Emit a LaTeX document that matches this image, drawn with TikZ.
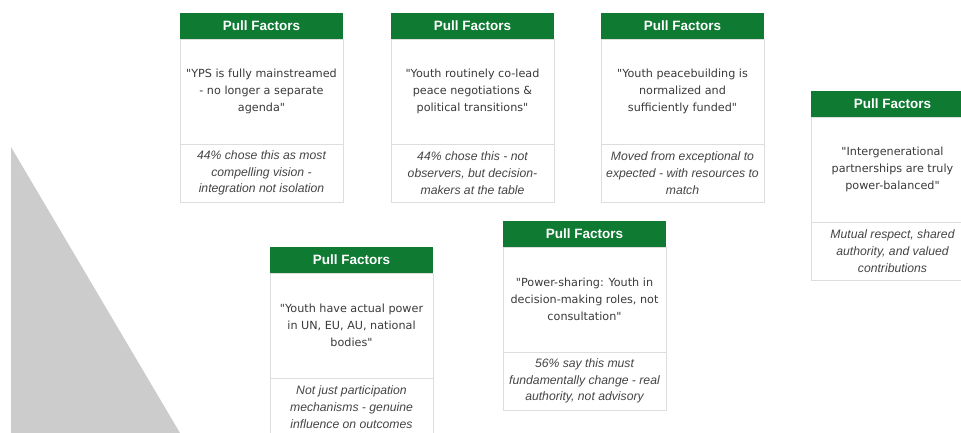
\documentclass[tikz,border=0pt]{standalone}
\usepackage{fontspec}
\setmainfont{Liberation Sans}
\newfontfamily\quotefont{DejaVu Sans}

\definecolor{pullgreen}{HTML}{0E7A32}
\definecolor{cardline}{HTML}{DDDDDD}
\definecolor{quotegray}{HTML}{3A3A3A}
\definecolor{notegray}{HTML}{454545}
\definecolor{wedgegray}{HTML}{CCCCCC}

\tikzset{
  cardhead/.style={fill=pullgreen, text=white, anchor=north west,
    minimum width=163, minimum height=26, inner sep=0, outer sep=0,
    font=\bfseries\fontsize{13.5}{15}\selectfont},
  cardbody/.style={draw=cardline, line width=0.7, fill=white, anchor=north,
    minimum width=163, minimum height=105, inner sep=0, outer sep=0,
    align=center, text=quotegray,
    font=\quotefont\fontsize{11.2}{16.7}\selectfont},
  cardnote/.style={draw=cardline, line width=0.7, fill=white, anchor=north,
    minimum width=163, minimum height=58, inner sep=0, outer sep=0,
    align=center, text=notegray,
    font=\itshape\fontsize{12.2}{16.7}\selectfont},
}

% one "Pull Factors" card: name, left, top, quote, note
\newcommand\pullcard[5]{%
  \node[cardhead] (#1h) at (#2,#3) {Pull Factors};
  \node[cardbody] (#1b) at (#1h.south) {#4};
  \node[cardnote] (#1n) at (#1b.south) {#5};
}

\begin{document}
\begin{tikzpicture}[x=1pt, y=-1pt]
\useasboundingbox (0,0) rectangle (961,433);
\clip (0,0) rectangle (961,433);
\fill[white] (0,0) rectangle (961,433);

% grey wedge on the left
\fill[wedgegray] (11,147) -- (11,433) -- (180,433) -- cycle;

\pullcard{mainstream}{180}{13}
  {"YPS is fully mainstreamed\\- no longer a separate\\agenda"}
  {44\% chose this as most\\compelling vision -\\integration not isolation}
\pullcard{colead}{391}{13}
  {"Youth routinely co-lead\\peace negotiations \&\\political transitions"}
  {44\% chose this - not\\observers, but decision-\\makers at the table}
\pullcard{funded}{601}{13}
  {"Youth peacebuilding is\\normalized and\\sufficiently funded"}
  {Moved from exceptional to\\expected - with resources to\\match}
\pullcard{partners}{811}{91}
  {"Intergenerational\\partnerships are truly\\power-balanced"}
  {Mutual respect, shared\\authority, and valued\\contributions}
\pullcard{power}{270}{247}
  {"Youth have actual power\\in UN, EU, AU, national\\bodies"}
  {Not just participation\\mechanisms - genuine\\influence on outcomes}
\pullcard{sharing}{503}{221}
  {"Power-sharing: Youth in\\decision-making roles, not\\consultation"}
  {56\% say this must\\fundamentally change - real\\authority, not advisory}
\end{tikzpicture}
\end{document}
